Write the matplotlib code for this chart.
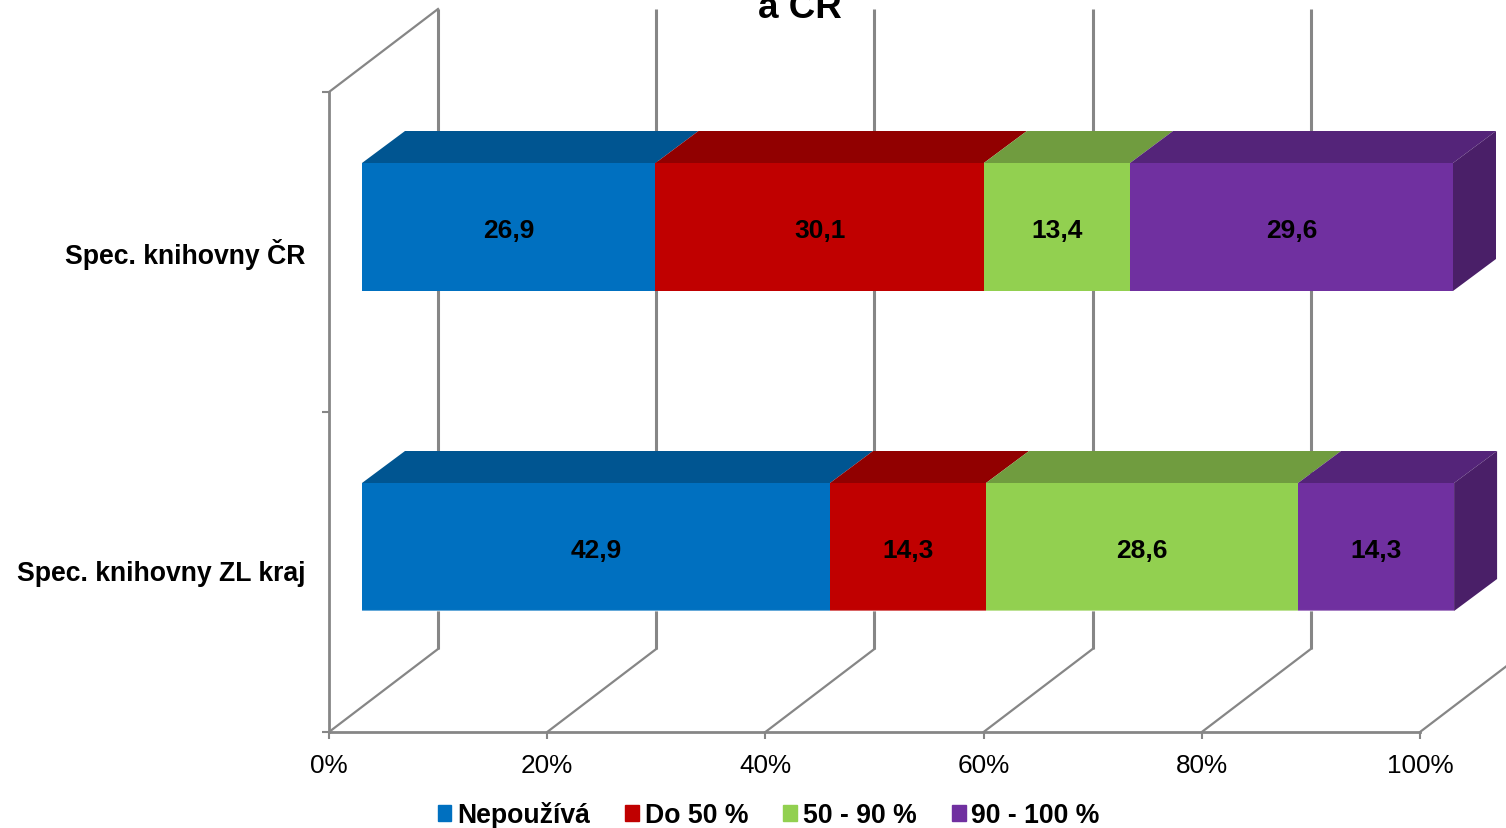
import matplotlib.pyplot as plt
from matplotlib.patches import Patch
from matplotlib.transforms import ScaledTranslation

plt.rcParams['font.family'] = ['Liberation Sans', 'DejaVu Sans']

# Data
categories = ['Spec. knihovny ZL kraj', 'Spec. knihovny ČR']
series_names = ['Nepoužívá', 'Do 50 %', '50 - 90 %', '90 - 100 %']
nepouziva = [42.9, 26.9]
do_50 = [14.3, 30.1]
od_50_do_90 = [28.6, 13.4]
od_90_do_100 = [14.3, 29.6]
series = [nepouziva, do_50, od_50_do_90, od_90_do_100]
value_labels = [['42,9', '26,9'], ['14,3', '30,1'], ['28,6', '13,4'], ['14,3', '29,6']]
ticks = [0, 20, 40, 60, 80, 100]

# Colours: front, top, side
front_colors = ['#0070C0', '#C00000', '#92D050', '#7030A0']
top_colors = ['#005591', '#910000', '#709C3F', '#542479']
side_color = '#4A1F68'
grid_color = '#868686'

W, H = 1506, 829
fig = plt.figure(figsize=(W / 100, H / 100), dpi=100, facecolor='white')
ax = fig.add_axes([329 / W, 1 - 733 / H, 1091 / W, 640 / H])
ax.set_xlim(0, 100)
ax.set_ylim(0, 2)

# Fake 3D offsets in data units
wall_dx, wall_dy = 109 / 10.91, 83 / 320
bar_dx, bar_dy = 33 / 10.91, 25 / 320
top_dx, top_dy = 43 / 10.91, 32 / 320
bar_h = 128 / 320
label_drop = 3 / 320

# Walls and floor
for t in ticks:
    ax.plot([t, t + wall_dx], [0, wall_dy], color=grid_color, lw=1.6, clip_on=False, zorder=1)
    ax.plot([t + wall_dx] * 2, [wall_dy, 2 + wall_dy], color=grid_color, lw=2.2,
            solid_capstyle='butt', clip_on=False, zorder=1)
ax.plot([0, wall_dx], [2, 2 + wall_dy], color=grid_color, lw=1.6, clip_on=False, zorder=1)

# Stacked bars
for c in range(len(categories)):
    y = c + 0.5 + bar_dy
    left = bar_dx
    for s in range(len(series)):
        v = series[s][c]
        ax.barh(y, v, bar_h, left=left, color=front_colors[s], clip_on=False, zorder=3)
        ax.fill([left, left + v, left + v + top_dx, left + top_dx],
                [y + bar_h / 2, y + bar_h / 2, y + bar_h / 2 + top_dy, y + bar_h / 2 + top_dy],
                color=top_colors[s], lw=0, clip_on=False, zorder=2 + s * 0.1)
        ax.text(left + v / 2, y - label_drop, value_labels[s][c], ha='center', va='center',
                fontsize=19, fontweight='bold', color='black', zorder=5)
        # lighter rim along the lower bar's bottom edge
        if c == 0:
            ax.plot([left, left + v], [y - bar_h / 2] * 2, color='white', alpha=0.4, lw=1.5,
                    solid_capstyle='butt', clip_on=False, zorder=4)
        left += v
    ax.fill([left, left + top_dx, left + top_dx, left],
            [y - bar_h / 2, y - bar_h / 2 + top_dy, y + bar_h / 2 + top_dy, y + bar_h / 2],
            color=side_color, lw=0, clip_on=False, zorder=3)

# Axes
for side in ['top', 'right']:
    ax.spines[side].set_visible(False)
for side in ['left', 'bottom']:
    ax.spines[side].set_color(grid_color)
    ax.spines[side].set_linewidth(2)
ax.set_xticks(ticks)
ax.set_xticklabels([f'{t}%' for t in ticks], fontsize=18.8)
ax.set_yticks([0, 1, 2])
ax.set_yticklabels([])
ax.set_yticks([0.5, 1.5], minor=True)
ax.set_yticklabels(categories, minor=True, fontsize=19.2, fontweight='bold')
ax.tick_params(axis='both', which='major', color=grid_color, width=1.5, length=5)
ax.tick_params(axis='x', pad=10)
ax.tick_params(axis='y', which='minor', length=0, pad=17)

# Nudge category labels up a little
nudge = ScaledTranslation(0, 2 / 100, fig.dpi_scale_trans)
for label in ax.get_yticklabels(minor=True):
    label.set_transform(label.get_transform() + nudge)

# Title, cut off by the top edge as in the source
fig.text(800 / W, 1 - 18 / H, 'a CR', ha='center', va='baseline', fontsize=26.5, fontweight='bold')

# Legend
handles = [Patch(color=c) for c in front_colors]
fig.legend(handles, series_names, ncols=4, loc='center', bbox_to_anchor=(768.5 / W, 1 - 816 / H),
           frameon=False, prop={'size': 19.2, 'weight': 'bold'}, handlelength=0.52, handleheight=0.52,
           handletextpad=0.21, columnspacing=1.32, borderpad=0, borderaxespad=0)

fig.savefig('out.png', dpi=100)
